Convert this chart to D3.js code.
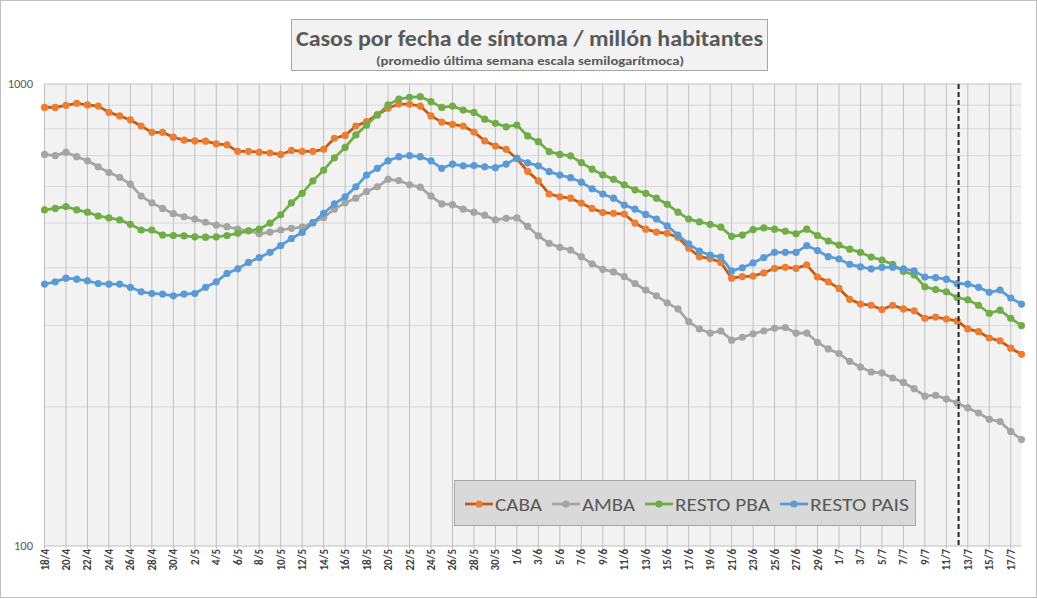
<!DOCTYPE html>
<html><head><meta charset="utf-8">
<script src="https://cdn.jsdelivr.net/npm/d3@7"></script>
<style>
html,body{margin:0;padding:0;background:#fff;}
svg{display:block;font-family:Carlito,Lato,"Open Sans",sans-serif;}
</style></head>
<body><svg id="c" width="1037" height="599"></svg>
<script>
const dates = ["18/4","19/4","20/4","21/4","22/4","23/4","24/4","25/4","26/4","27/4","28/4","29/4","30/4",
"1/5","2/5","3/5","4/5","5/5","6/5","7/5","8/5","9/5","10/5","11/5","12/5","13/5","14/5","15/5","16/5","17/5","18/5","19/5","20/5","21/5","22/5","23/5","24/5","25/5","26/5","27/5","28/5","29/5","30/5","31/5",
"1/6","2/6","3/6","4/6","5/6","6/6","7/6","8/6","9/6","10/6","11/6","12/6","13/6","14/6","15/6","16/6","17/6","18/6","19/6","20/6","21/6","22/6","23/6","24/6","25/6","26/6","27/6","28/6","29/6","30/6",
"1/7","2/7","3/7","4/7","5/7","6/7","7/7","8/7","9/7","10/7","11/7","12/7","13/7","14/7","15/7","16/7","17/7","18/7"];

const caba = [890,890,899,908,901,896,868,853,836,811,786,786,767,756,753,752,742,738,715,715,712,709,704,718,715,715,722,763,774,811,829,858,886,905,904,896,853,827,818,811,787,753,734,722,689,647,617,578,570,566,552,538,527,525,523,500,485,478,475,466,441,423,419,411,380,383,384,390,399,401,399,406,382,373,361,342,334,332,325,332,326,323,311,313,310,307,295,291,282,278,268,260];
const amba = [704,700,712,696,682,662,643,628,607,572,553,538,524,516,510,502,495,491,485,481,474,478,483,487,490,501,514,536,553,566,585,599,622,618,605,598,572,550,548,536,528,520,508,512,513,492,469,452,443,437,423,408,397,392,383,370,358,348,336,326,306,295,289,292,279,283,288,292,296,297,289,289,276,267,261,251,244,238,237,231,226,219,211,212,208,204,199,194,188,186,177,170];
const restoPBA = [534,538,543,534,528,518,513,508,497,483,483,471,470,469,467,466,467,470,475,481,485,500,521,553,580,617,651,692,729,776,815,857,901,928,936,939,916,890,896,878,868,839,822,808,815,772,750,714,704,699,676,654,636,622,605,590,580,566,549,528,510,503,497,490,468,471,484,488,485,480,474,485,470,457,448,439,432,422,416,407,393,386,364,359,355,345,341,332,319,324,311,300];
const restoPais = [369,373,380,378,375,370,369,369,363,355,352,351,348,351,352,363,373,389,398,411,421,432,447,463,477,501,525,550,570,599,635,657,682,696,700,696,682,657,671,665,666,662,659,671,691,675,665,646,635,627,613,593,578,566,547,536,522,510,493,471,451,435,426,422,394,400,410,421,432,432,432,447,436,423,418,407,402,398,401,401,398,394,382,381,378,370,369,363,354,358,344,334];

const seriesNames = ["CABA","AMBA","RESTO PBA","RESTO PAIS"];
const seriesData = [caba, amba, restoPBA, restoPais];
const lineColors = ["#c55a11","#a5a5a5","#70ad47","#5b9bd5"];
const markerColors = ["#ed7d31","#a5a5a5","#70ad47","#5b9bd5"];
const yTicks = [100,1000];
const yMinor = [200,300,400,500,600,700,800,900];
const markerDate = "12/7";
const titleText = "Casos por fecha de síntoma / millón habitantes";
const subtitleText = "(promedio última semana escala semilogarítmoca)";

const svg = d3.select("#c");
const W = 1037, H = 599;
const L = 44.5, R = 1021.5, T = 84, B = 546;

svg.append("rect").attr("x",0.5).attr("y",0.5).attr("width",W-1).attr("height",H-2)
  .attr("fill","#fff").attr("stroke","#bfbfbf");

const x = d3.scalePoint().domain(dates).range([L, R]);
const y = d3.scaleLog().domain([100,1000]).range([B, T]);

svg.append("rect").attr("x",L).attr("y",T).attr("width",R-L).attr("height",B-T).attr("fill","#f2f2f2");

// minor horizontal gridlines
svg.append("g").selectAll("line").data(yMinor).join("line")
  .attr("x1",L).attr("x2",R).attr("y1",d=>y(d)).attr("y2",d=>y(d))
  .attr("stroke","#d9d9d9").attr("stroke-width",1);
// major
svg.append("g").selectAll("line").data(yTicks).join("line")
  .attr("x1",L).attr("x2",R).attr("y1",d=>y(d)).attr("y2",d=>y(d))
  .attr("stroke","#bfbfbf").attr("stroke-width",1);

const labelDates = dates.filter((d,i)=>i%2===0);
// vertical gridlines
svg.append("g").selectAll("line").data(labelDates).join("line")
  .attr("x1",d=>x(d)).attr("x2",d=>x(d)).attr("y1",T).attr("y2",B+3)
  .attr("stroke","#bfbfbf").attr("stroke-width",1);

// y labels
svg.append("g").selectAll("text").data(yTicks).join("text")
  .attr("x",33).attr("y",d=>y(d)+4).attr("text-anchor","end")
  .attr("font-size",12.5).attr("fill","#595959").text(d=>d);

// x labels
svg.append("g").selectAll("text").data(labelDates).join("text")
  .attr("transform",d=>`translate(${x(d)+4},${B+3}) rotate(-90)`)
  .attr("text-anchor","end").attr("font-size",11).attr("font-weight","bold")
  .attr("fill","#404040").text(d=>d);

// series
const line = d3.line().x((d,i)=>x(dates[i])).y(d=>y(d));
seriesData.forEach((s,k)=>{
  const g = svg.append("g");
  g.append("path").datum(s).attr("d",line).attr("fill","none")
    .attr("stroke",lineColors[k]).attr("stroke-width",2.75).attr("stroke-linejoin","round");
  g.selectAll("circle").data(s).join("circle")
    .attr("cx",(d,i)=>x(dates[i])).attr("cy",d=>y(d)).attr("r",3.6)
    .attr("fill",markerColors[k]);
});

// dashed marker line
svg.append("line").attr("x1",x(markerDate)+1.5).attr("x2",x(markerDate)+1.5).attr("y1",T).attr("y2",B)
  .attr("stroke","#262626").attr("stroke-width",2).attr("stroke-dasharray","5,3");

// title box
svg.append("rect").attr("x",291.5).attr("y",19.5).attr("width",476).attr("height",51)
  .attr("fill","#f2f2f2").attr("stroke","#a6a6a6");
svg.append("text").attr("x",529.5).attr("y",46).attr("text-anchor","middle")
  .attr("font-size",23).attr("font-weight","bold").attr("fill","#595959")
  .attr("textLength",467).attr("lengthAdjust","spacingAndGlyphs").text(titleText);
svg.append("text").attr("x",530).attr("y",65).attr("text-anchor","middle")
  .attr("font-size",12.5).attr("font-weight","bold").attr("fill","#595959")
  .attr("textLength",308).attr("lengthAdjust","spacingAndGlyphs").text(subtitleText);

// legend
const lg = svg.append("g");
lg.append("rect").attr("x",454.5).attr("y",480.5).attr("width",461).attr("height",45)
  .attr("fill","#d9d9d9").attr("stroke","#a6a6a6");
const legX = [465,552,645,780];
const legTextW = [47,53,95,99];
seriesNames.forEach((n,k)=>{
  const x0 = legX[k];
  lg.append("line").attr("x1",x0).attr("x2",x0+28).attr("y1",504).attr("y2",504)
    .attr("stroke",lineColors[k]).attr("stroke-width",2.75);
  lg.append("circle").attr("cx",x0+14).attr("cy",504).attr("r",3.6).attr("fill",markerColors[k]);
  lg.append("text").attr("x",x0+30).attr("y",510.5).attr("font-size",18).attr("fill","#595959")
    .attr("textLength",legTextW[k]).attr("lengthAdjust","spacingAndGlyphs").text(n);
});
</script></body></html>
